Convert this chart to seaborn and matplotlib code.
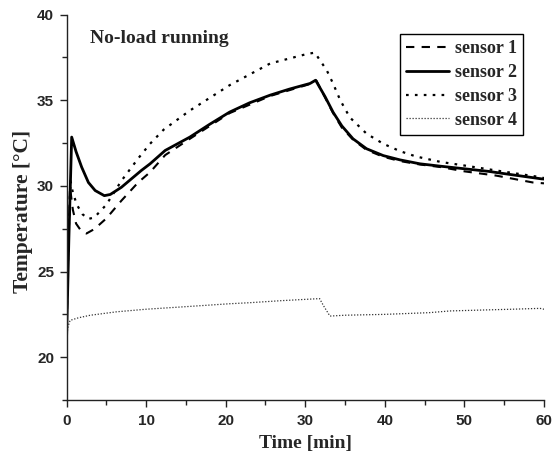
import numpy as np
import pandas as pd
import matplotlib
matplotlib.use("Agg")
import matplotlib.pyplot as plt
import seaborn as sns

# --- data (time in min, temperature in °C) ---
t_s1 = [0, 0.2, 0.44, 0.8, 1.2, 1.8, 2.5, 3.5, 5, 6.9, 9, 10.5, 12.4, 15.5,
        20.5, 25.6, 30.6, 31.4, 32.5, 33.5, 34.6, 36, 37.7, 39.8, 41.9, 44.4,
        47, 50, 54, 58.6, 60]
temp_s1 = [21.0, 26.0, 29.9, 28.6, 27.8, 27.4, 27.22, 27.48, 28.1, 29.14, 30.2,
           30.8, 31.8, 32.75, 34.25, 35.25, 35.95, 36.15, 35.15, 34.25, 33.4,
           32.7, 32.1, 31.7, 31.45, 31.25, 31.1, 30.85, 30.6, 30.2, 30.15]

t_s2 = [0, 0.3, 0.65, 1.2, 1.9, 2.75, 3.6, 4.75, 5.5, 6.9, 9.4, 10.5, 12.4,
        15.5, 18, 20.5, 23, 25.6, 28, 30.6, 31.3, 32.5, 33.5, 34.6, 36, 37.7,
        39.8, 41.9, 44.4, 47, 50, 53, 56, 59.7, 60]
temp_s2 = [21.0, 27.0, 32.85, 32.0, 31.1, 30.2, 29.73, 29.43, 29.5, 29.92, 30.9,
           31.29, 32.07, 32.85, 33.6, 34.31, 34.85, 35.3, 35.65, 35.98, 36.17,
           35.2, 34.3, 33.5, 32.75, 32.17, 31.77, 31.52, 31.29, 31.15, 31.0,
           30.85, 30.65, 30.41, 30.4]

t_s3 = [0, 0.25, 0.5, 0.8, 1.3, 2, 2.75, 3.5, 5, 6.9, 9, 10.5, 12.2, 15.5,
        20.5, 25.6, 30.2, 31.2, 32.7, 33.5, 34.4, 35.6, 37.7, 39.8, 41.9,
        43.9, 47, 50, 54, 59.7, 60]
temp_s3 = [22.0, 27.0, 30.3, 29.6, 28.9, 28.35, 28.07, 28.16, 28.9, 30.3, 31.6,
           32.46, 33.28, 34.4, 35.88, 37.15, 37.7, 37.78, 36.75, 35.97, 35.0,
           34.0, 33.05, 32.46, 32.03, 31.72, 31.4, 31.19, 30.9, 30.5, 30.45]

t_s4 = [0, 0.2, 0.45, 1.5, 3, 6.3, 10, 15, 20.5, 23, 27, 31.8, 32.3, 33.1, 35,
        40, 45.6, 48.2, 52, 56, 59.5, 60]
temp_s4 = [21.2, 21.8, 22.15, 22.3, 22.45, 22.65, 22.8, 22.95, 23.12, 23.18,
           23.3, 23.42, 23.0, 22.4, 22.45, 22.5, 22.6, 22.7, 22.75, 22.8, 22.85,
           22.8]

labels = ["sensor 1", "sensor 2", "sensor 3", "sensor 4"]

# ---------------------------------------------------------------------------
sns.set_style("ticks")

serif_bold = {"family": "Liberation Serif", "weight": "bold"}

fig = plt.figure(figsize=(5.52, 4.61), dpi=100)
ax = fig.add_axes([0.1205, 0.1323, 0.865, 0.836])

series = [
    (t_s1, temp_s1, dict(color="black", lw=1.5, dashes=(4, 3.5))),
    (t_s2, temp_s2, dict(color="black", lw=2.0)),
    (t_s3, temp_s3, dict(color="black", lw=1.6, dashes=(1.2, 2.8))),
    (t_s4, temp_s4, dict(color="#333333", lw=0.9, dashes=(1, 1.4))),
]
for (t, temp, style), name in zip(series, labels):
    df = pd.DataFrame({"time": t, "temp": temp})
    sns.lineplot(data=df, x="time", y="temp", ax=ax, label=name, **style)

ax.set_xlim(0, 60)
ax.set_ylim(17.5, 40)
ax.set_xticks(np.arange(0, 61, 10))
ax.set_xticks(np.arange(5, 60, 10), minor=True)
ax.set_yticks([20, 25, 30, 35, 40])
ax.set_yticks([17.5, 22.5, 27.5, 32.5, 37.5], minor=True)

for side in ["top", "right"]:
    ax.spines[side].set_visible(False)
for side in ["left", "bottom"]:
    ax.spines[side].set_color("#222222")
    ax.spines[side].set_linewidth(1.0)

ax.tick_params(which="major", direction="out", length=5, width=1,
               color="#222222", pad=4)
ax.tick_params(which="minor", direction="out", length=3.5, width=1,
               color="#222222")
ax.tick_params(axis="x", pad=5)
for lab in ax.get_xticklabels() + ax.get_yticklabels():
    lab.set_fontfamily("Liberation Sans")
    lab.set_fontweight("bold")
    lab.set_fontsize(11)

ax.set_xlabel("Time [min]", fontsize=14, **serif_bold)
ax.set_ylabel("Temperature [°C]", fontsize=15.5, **serif_bold)
ax.xaxis.set_label_coords(0.5, -0.09)
ax.yaxis.set_label_coords(-0.07, 0.49)

ax.text(0.049, 0.939, "No-load running", transform=ax.transAxes,
        ha="left", va="center", fontsize=14, **serif_bold)

leg = ax.legend(loc="upper right", bbox_to_anchor=(0.956, 0.95),
                prop={"family": "Liberation Serif", "weight": "bold", "size": 13},
                frameon=True, fancybox=False, handlelength=2.4,
                handletextpad=0.3, labelspacing=0.38, borderpad=0.35,
                borderaxespad=0)
leg.get_frame().set_edgecolor("black")
leg.get_frame().set_linewidth(1.0)
leg.get_frame().set_alpha(1)

fig.savefig("out.png", dpi=100)
